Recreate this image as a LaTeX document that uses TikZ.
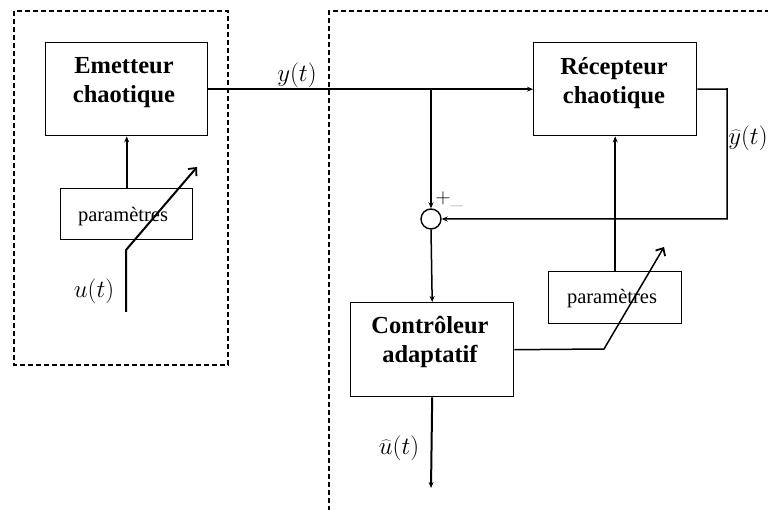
\documentclass[tikz,border=0pt]{standalone}
\usepackage[no-math]{fontspec}
\setmainfont{Liberation Serif}
\usetikzlibrary{arrows.meta}
\begin{document}
\begin{tikzpicture}[x=1pt,y=-1pt,
  blk/.style={draw, line width=1.4pt, inner sep=0pt, anchor=north west},
  btxt/.style={font=\fontsize{24.5}{29}\selectfont\bfseries, align=center, inner sep=0pt},
  ptxt/.style={font=\fontsize{20.5}{24}\selectfont, inner sep=0pt},
  mlab/.style={font=\fontsize{26}{30}\selectfont, inner sep=0pt},
  sig/.style={line width=2pt},
  thin sig/.style={line width=1.5pt},
  arr/.style={-{Stealth[length=6pt,width=5pt]}},
  openarr/.style={-{Straight Barb[length=6pt,width=11pt,line width=1.8pt]}},
  dbox/.style={line width=1.4pt, dash pattern=on 5pt off 3pt}]
\useasboundingbox (0,0) rectangle (768,510);
% dashed frames
\draw[dbox] (14,11) rectangle (228,365);
\draw[dbox] (770,11) -- (329,11) -- (329,512);
% blocks
\node[blk, minimum width=162pt, minimum height=93pt] (em) at (45,42) {};
\node[btxt] (emt) at (124,83) {Emetteur\\chaotique};
\node[blk, minimum width=163pt, minimum height=93pt] (rc) at (533,42) {};
\node[btxt] (rct) at (614,83) {Récepteur\\chaotique};
\node[blk, minimum width=163pt, minimum height=94pt] (ct) at (350,302) {};
\node[btxt] (ctt) at (430,342) {Contrôleur\\adaptatif};
\node[blk, minimum width=132pt, minimum height=51pt] (pl) at (60,188) {};
\node[ptxt] (plt) at (123,217) {paramètres};
\node[blk, minimum width=133pt, minimum height=52pt] (pr) at (548,271) {};
\node[ptxt] (prt) at (612,299) {paramètres};
\node[circle, draw, line width=1.4pt, minimum size=20pt, inner sep=0pt] (sum) at (431,219) {};
\node[font=\fontsize{22}{22}\selectfont, inner sep=0pt] (plus) at (443,198) {$+$};
\node[font=\fontsize{22}{22}\selectfont, text=gray!55, inner sep=0pt] (minus) at (457,206) {$-$};
% coordinates
\coordinate (br) at (431,89);
\coordinate (yr) at (727,89);
\coordinate (uout) at (431,488);
\coordinate (cbend) at (604,349);
\coordinate (ctip) at (664,247);
\coordinate (uin) at (126,312);
\coordinate (ubend) at (126,250);
\coordinate (utip) at (197,167);
% connectors
\draw[sig, arr] (em.east) -- (rc.west);
\draw[sig, arr] (br) -- (sum.north);
\draw[thin sig, arr] (rc.east) -- (yr) |- (sum.east);
\draw[thin sig, arr] (sum.south) -- (ct.north);
\draw[sig, arr] (ct.south) -- (uout);
\draw[sig, arr] (pr.north) -- (rc.south);
\draw[sig, arr] (pl.north) -- (em.south);
\draw[thin sig, openarr] (ct.east) -- (cbend) -- (ctip);
\draw[sig, openarr] (uin) -- (ubend) -- (utip);
% labels
\node[mlab] (ylab) at (297,75) {$y(t)$};
\node[mlab] (ulab) at (94,291) {$u(t)$};
\node[mlab] (yhlab) at (748,138) {$\widehat{y}(t)$};
\node[mlab] (uhlab) at (399,448) {$\widehat{u}(t)$};
\end{tikzpicture}
\end{document}
